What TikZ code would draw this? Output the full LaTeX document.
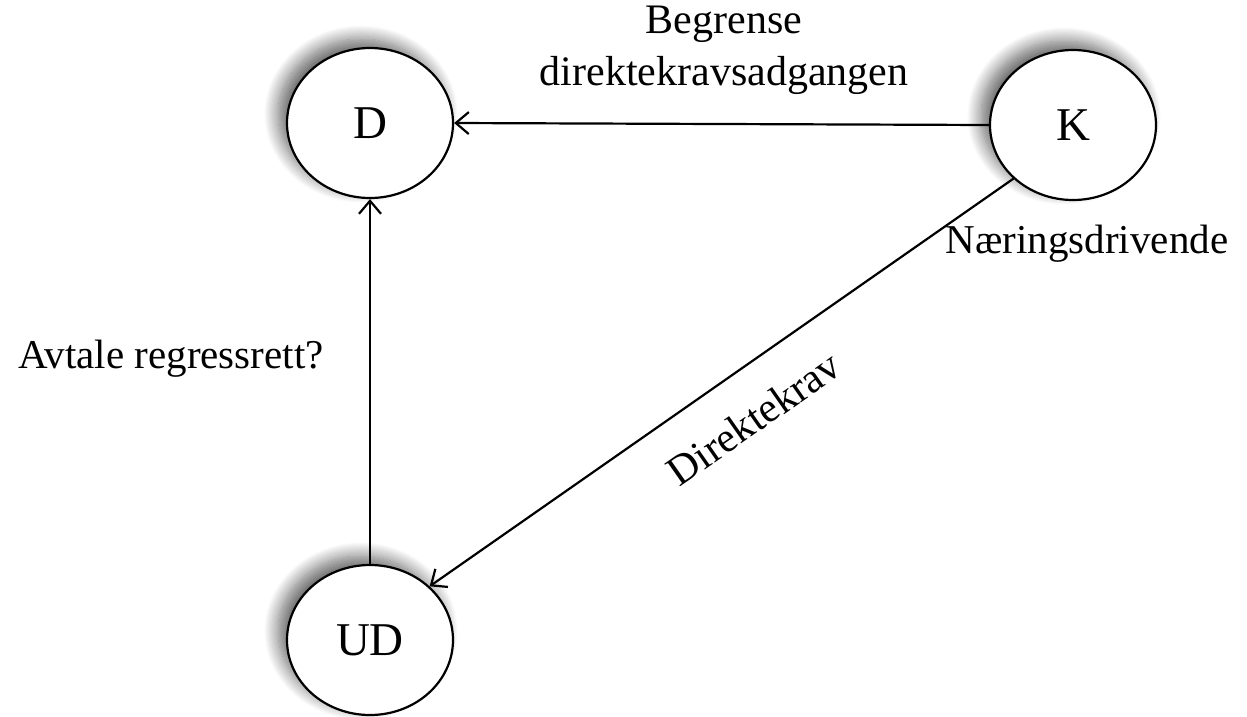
\documentclass[tikz,border=0pt]{standalone}
\usepackage{fontspec}
\setmainfont{Liberation Serif}
\usetikzlibrary{shapes.geometric,arrows.meta,shadows.blur}
\begin{document}
\begin{tikzpicture}[x=1pt,y=-1pt,
  circ/.style={ellipse,draw=black,line width=2.2pt,fill=white,minimum width=166pt,minimum height=150pt,inner sep=0pt,
    font=\fontsize{47}{52}\selectfont,
    blur shadow={shadow xshift=-9pt,shadow yshift=9pt,shadow blur radius=14pt,shadow blur steps=16,shadow opacity=60}},
  lbl/.style={inner sep=0pt,font=\fontsize{42}{52}\selectfont},
  conn/.style={line width=2.2pt,-{Straight Barb[length=13pt,width=22pt,line width=2.2pt]}}]
\useasboundingbox (0,0) rectangle (1247,716);
\node[circ] (D) at (370,123) {D};
\node[circ] (K) at (1073,125) {K};
\node[circ] (UD) at (370,640) {UD};
\draw[conn] (K.west) -- (D.east);
\draw[conn] (UD.north) -- (D.south);
\draw[conn] (K.222) -- (UD.42);
\node[lbl,align=center,anchor=north] (lb1) at (724,6) {Begrense\\direktekravsadgangen};
\node[lbl,anchor=base,font=\fontsize{41}{52}\selectfont] (lb2) at (1087,253) {Næringsdrivende};
\node[lbl,anchor=base,font=\fontsize{41}{52}\selectfont] (lb3) at (171,368) {Avtale regressrett?};
\node[lbl,anchor=base,rotate=35] (lb4) at (762,430) {Direktekrav};
\end{tikzpicture}
\end{document}
